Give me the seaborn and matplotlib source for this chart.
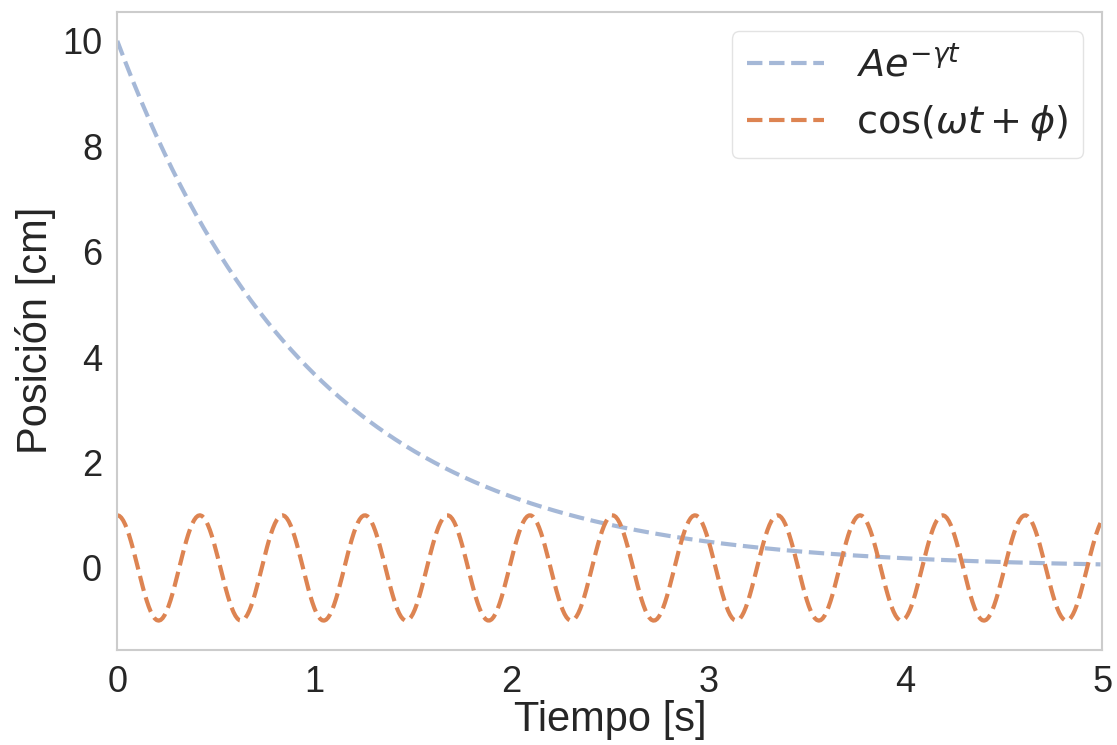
import numpy as np
import pandas as pd
import matplotlib
matplotlib.use("Agg")
import matplotlib.pyplot as plt
import seaborn as sns

# Parameters
A = 10.0        # initial amplitude [cm]
gamma = 1.0     # damping [1/s]
omega = 15.0    # angular frequency [rad/s]
phi = 0.0       # phase
t_step = 0.01
t_max = 5.0

t = np.arange(0, t_max, t_step)
decay = A * np.exp(-gamma * t)
osc = np.cos(omega * t + phi)

df = pd.DataFrame({'t': t, 'decay': decay, 'osc': osc})

sns.set_theme(style="white")
plt.rcParams['font.family'] = ['Liberation Sans', 'DejaVu Sans']
plt.rcParams['mathtext.fontset'] = 'dejavusans'

pal = sns.color_palette("deep")

fig, ax = plt.subplots(figsize=(11.17, 7.45), dpi=100)
sns.lineplot(data=df, x='t', y='decay', ax=ax, color=pal[0], alpha=0.5,
             linestyle='--', linewidth=3, label=r'$Ae^{-\gamma t}$')
sns.lineplot(data=df, x='t', y='osc', ax=ax, color=pal[1],
             linestyle='--', linewidth=3, label=r'$\cos(\omega t + \phi)$')

ax.set_xlim(0, 5)
ax.set_xlabel('Tiempo [s]', fontsize=30, color='#262626', labelpad=0)
ax.set_ylabel('Posición [cm]', fontsize=30, color='#262626', labelpad=4)
ax.tick_params(axis='both', labelsize=26, colors='#262626', pad=11, length=0)
for s in ax.spines.values():
    s.set_color('#cccccc')
    s.set_linewidth(1.5)

leg = ax.legend(loc='upper right', fontsize=27.5, frameon=True, handlelength=2.0,
                borderpad=0.4, labelspacing=0.5, handletextpad=0.85)
leg.get_frame().set_edgecolor('#dddddd')

fig.subplots_adjust(left=0.105, right=0.987, top=0.984, bottom=0.128)
fig.savefig('out.png', dpi=100, facecolor='white')
